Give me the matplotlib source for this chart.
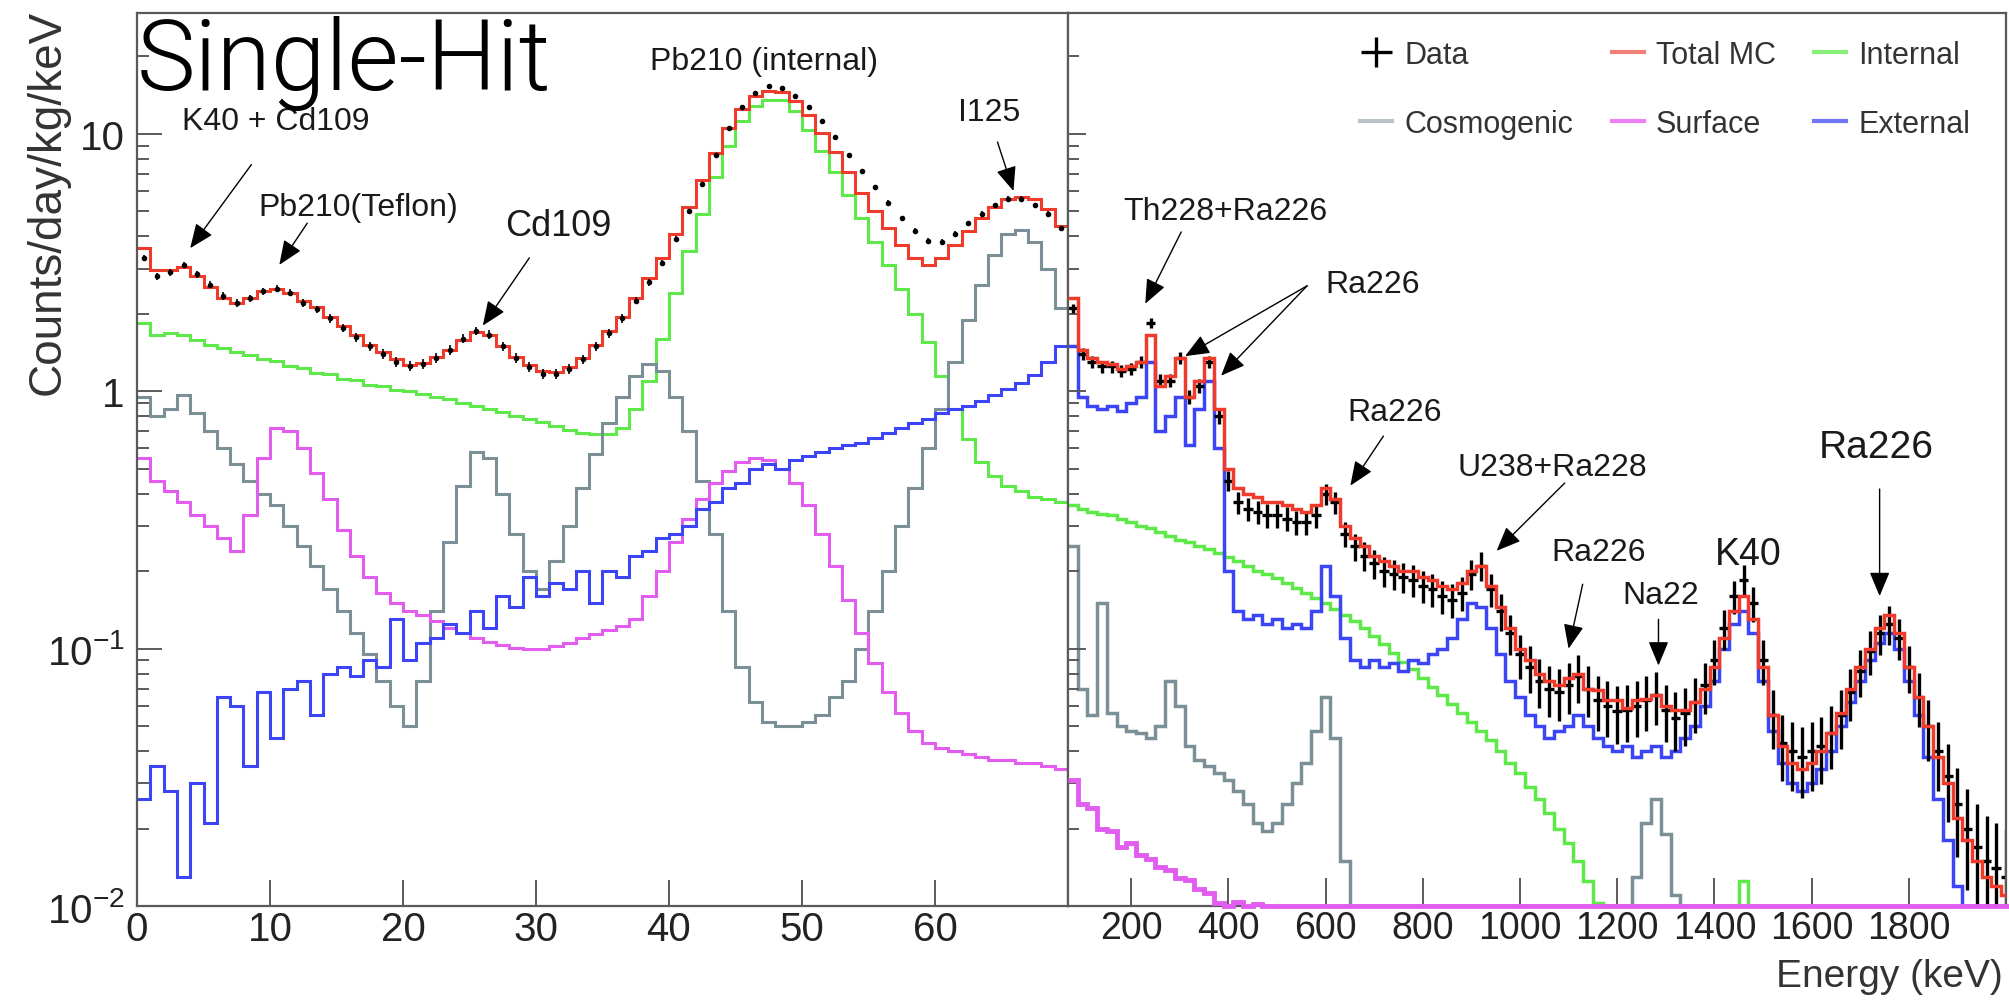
import numpy as np
import matplotlib
matplotlib.use('Agg')
from matplotlib import pyplot as plt
from matplotlib.lines import Line2D
from matplotlib.ticker import FixedLocator, FuncFormatter, LogLocator, NullLocator

plt.rcParams['font.family'] = ['Liberation Sans', 'DejaVu Sans']
plt.rcParams['mathtext.fontset'] = 'custom'
plt.rcParams['mathtext.rm'] = 'Liberation Sans'

# ---------------------------------------------------------------
# Datos leidos del espectro (Counts/day/kg/keV)
# ---------------------------------------------------------------
# Panel izquierdo: 0-70 keV, bins de 1 keV
low_edges = np.arange(0, 71)

low_data = [3.3, 2.8, 2.9, 3.1, 2.85, 2.6, 2.35, 2.2, 2.3, 2.45,
            2.5, 2.42, 2.2, 2.08, 1.92, 1.76, 1.62, 1.5, 1.4, 1.3,
            1.25, 1.28, 1.35, 1.45, 1.6, 1.72, 1.66, 1.5, 1.35, 1.24,
            1.17, 1.17, 1.22, 1.33, 1.5, 1.68, 1.92, 2.25, 2.65, 3.15,
            3.9, 5.0, 6.4, 8.3, 10.5, 12.7, 14.4, 15.3, 15.1, 14.1,
            12.7, 11.2, 9.7, 8.3, 7.2, 6.2, 5.4, 4.7, 4.2, 3.85,
            3.8, 4.1, 4.5, 4.9, 5.3, 5.6, 5.6, 5.3, 4.9, 4.3]

low_total = [3.6, 2.95, 2.95, 3.05, 2.8, 2.55, 2.3, 2.2, 2.3, 2.45,
             2.5, 2.4, 2.25, 2.12, 1.95, 1.8, 1.65, 1.52, 1.42, 1.33,
             1.27, 1.29, 1.36, 1.45, 1.58, 1.7, 1.65, 1.5, 1.36, 1.26,
             1.2, 1.19, 1.24, 1.35, 1.52, 1.72, 1.95, 2.3, 2.75, 3.3,
             4.1, 5.2, 6.6, 8.4, 10.5, 12.5, 14.0, 14.7, 14.5, 13.4,
             11.8, 10.1, 8.5, 7.1, 5.9, 5.0, 4.3, 3.7, 3.3, 3.1,
             3.3, 3.7, 4.2, 4.7, 5.2, 5.6, 5.7, 5.6, 5.1, 4.4]

low_internal = [1.85, 1.65, 1.68, 1.66, 1.58, 1.52, 1.47, 1.42, 1.38, 1.34,
                1.31, 1.25, 1.23, 1.18, 1.17, 1.12, 1.11, 1.06, 1.05, 1.01,
                1.0, 0.98, 0.95, 0.93, 0.9, 0.88, 0.85, 0.83, 0.8, 0.78,
                0.76, 0.73, 0.71, 0.69, 0.68, 0.68, 0.72, 0.85, 1.1, 1.6,
                2.4, 3.5, 4.9, 6.8, 9.0, 11.2, 12.8, 13.6, 13.5, 12.3,
                10.4, 8.6, 7.1, 5.8, 4.7, 3.8, 3.1, 2.5, 2.0, 1.55,
                1.15, 0.85, 0.65, 0.53, 0.47, 0.43, 0.41, 0.39, 0.38, 0.37]

low_cosmo = [0.95, 0.8, 0.85, 0.97, 0.82, 0.7, 0.6, 0.52, 0.45, 0.4,
             0.36, 0.3, 0.25, 0.21, 0.17, 0.14, 0.115, 0.095, 0.075, 0.06,
             0.05, 0.075, 0.14, 0.26, 0.43, 0.58, 0.55, 0.4, 0.28, 0.2,
             0.17, 0.22, 0.3, 0.42, 0.57, 0.75, 0.95, 1.15, 1.28, 1.2,
             0.95, 0.7, 0.45, 0.28, 0.14, 0.085, 0.062, 0.052, 0.05, 0.05,
             0.052, 0.055, 0.065, 0.075, 0.1, 0.14, 0.2, 0.3, 0.42, 0.6,
             0.85, 1.3, 1.9, 2.6, 3.4, 4.1, 4.25, 3.8, 3.0, 2.1]

low_surface = [0.55, 0.45, 0.41, 0.37, 0.33, 0.3, 0.27, 0.24, 0.33, 0.55,
               0.72, 0.7, 0.6, 0.48, 0.38, 0.29, 0.23, 0.19, 0.165, 0.15,
               0.14, 0.135, 0.128, 0.12, 0.115, 0.11, 0.106, 0.103, 0.101, 0.1,
               0.1, 0.102, 0.105, 0.11, 0.114, 0.118, 0.122, 0.13, 0.16, 0.2,
               0.26, 0.32, 0.38, 0.44, 0.49, 0.53, 0.55, 0.54, 0.5, 0.44,
               0.36, 0.28, 0.21, 0.155, 0.115, 0.088, 0.068, 0.056, 0.048, 0.043,
               0.041, 0.04, 0.039, 0.038, 0.037, 0.037, 0.036, 0.036, 0.035, 0.034]

low_external = [0.026, 0.035, 0.028, 0.013, 0.03, 0.021, 0.065, 0.06, 0.035, 0.068,
                0.045, 0.07, 0.075, 0.055, 0.08, 0.085, 0.078, 0.09, 0.085, 0.13,
                0.09, 0.105, 0.11, 0.125, 0.115, 0.14, 0.12, 0.16, 0.145, 0.19,
                0.16, 0.18, 0.17, 0.2, 0.15, 0.2, 0.19, 0.23, 0.24, 0.27,
                0.28, 0.3, 0.35, 0.37, 0.42, 0.44, 0.5, 0.52, 0.5, 0.54,
                0.56, 0.58, 0.6, 0.62, 0.63, 0.66, 0.69, 0.72, 0.75, 0.78,
                0.82, 0.85, 0.88, 0.92, 0.97, 1.02, 1.08, 1.16, 1.3, 1.5]

# Panel derecho: 70-2010 keV, bins de 20 keV
high_edges = np.arange(70, 2011, 20)

high_data = [2.1, 1.4, 1.3, 1.25, 1.25, 1.2, 1.22, 1.3, 1.85, 1.1,
             1.1, 1.35, 0.95, 1.05, 1.3, 0.8, 0.45, 0.37, 0.35, 0.34,
             0.33, 0.33, 0.32, 0.31, 0.31, 0.33, 0.4, 0.37, 0.28, 0.25,
             0.23, 0.215, 0.2, 0.195, 0.19, 0.185, 0.175, 0.17, 0.16, 0.155,
             0.165, 0.195, 0.21, 0.17, 0.14, 0.115, 0.095, 0.085, 0.075, 0.07,
             0.068, 0.072, 0.078, 0.07, 0.063, 0.06, 0.057, 0.058, 0.06, 0.063,
             0.066, 0.058, 0.054, 0.056, 0.062, 0.072, 0.09, 0.12, 0.16, 0.185,
             0.15, 0.09, 0.055, 0.043, 0.04, 0.038, 0.04, 0.042, 0.047, 0.055,
             0.068, 0.082, 0.098, 0.115, 0.125, 0.11, 0.085, 0.065, 0.05, 0.04,
             0.032, 0.025, 0.02, 0.017, 0.015, 0.014, 0.013]

high_total = [2.3, 1.45, 1.35, 1.3, 1.28, 1.22, 1.25, 1.3, 1.65, 1.05,
              1.15, 1.35, 0.95, 1.1, 1.35, 0.85, 0.5, 0.42, 0.4, 0.39,
              0.37, 0.37, 0.36, 0.35, 0.34, 0.36, 0.42, 0.38, 0.3, 0.27,
              0.25, 0.23, 0.22, 0.21, 0.2, 0.2, 0.19, 0.185, 0.175, 0.17,
              0.18, 0.2, 0.21, 0.175, 0.145, 0.12, 0.1, 0.09, 0.08, 0.075,
              0.072, 0.077, 0.08, 0.07, 0.069, 0.063, 0.063, 0.059, 0.063, 0.064,
              0.066, 0.06, 0.058, 0.058, 0.062, 0.07, 0.085, 0.11, 0.14, 0.16,
              0.13, 0.085, 0.055, 0.042, 0.036, 0.034, 0.036, 0.04, 0.047, 0.056,
              0.07, 0.085, 0.1, 0.12, 0.135, 0.115, 0.085, 0.065, 0.05, 0.038,
              0.03, 0.022, 0.018, 0.015, 0.013, 0.012, 0.011]

high_external = [1.5, 0.95, 0.88, 0.85, 0.88, 0.84, 0.9, 0.95, 1.3, 0.7,
                 0.8, 0.95, 0.62, 0.85, 1.1, 0.6, 0.2, 0.14, 0.13, 0.135,
                 0.125, 0.13, 0.12, 0.125, 0.12, 0.14, 0.21, 0.16, 0.11, 0.09,
                 0.085, 0.09, 0.085, 0.088, 0.082, 0.09, 0.088, 0.095, 0.1, 0.11,
                 0.13, 0.15, 0.145, 0.12, 0.095, 0.075, 0.065, 0.055, 0.05, 0.045,
                 0.048, 0.05, 0.055, 0.05, 0.045, 0.042, 0.04, 0.042, 0.038, 0.04,
                 0.042, 0.038, 0.04, 0.045, 0.05, 0.06, 0.075, 0.1, 0.125, 0.14,
                 0.115, 0.075, 0.048, 0.036, 0.03, 0.028, 0.03, 0.034, 0.04, 0.05,
                 0.062, 0.075, 0.09, 0.105, 0.115, 0.1, 0.075, 0.055, 0.038, 0.026,
                 0.018, 0.012, 0.008, 0.006, 0.005, 0.004, 0.004]

# Internal solo hasta 1490 keV (despues queda bajo el minimo)
high_internal = [0.36, 0.35, 0.34, 0.335, 0.33, 0.32, 0.31, 0.3, 0.295, 0.285,
                 0.275, 0.265, 0.26, 0.25, 0.245, 0.235, 0.228, 0.22, 0.21, 0.2,
                 0.195, 0.188, 0.18, 0.172, 0.165, 0.158, 0.15, 0.142, 0.135, 0.128,
                 0.12, 0.112, 0.104, 0.096, 0.089, 0.083, 0.077, 0.071, 0.066, 0.061,
                 0.056, 0.052, 0.048, 0.044, 0.04, 0.036, 0.033, 0.029, 0.026, 0.023,
                 0.02, 0.0175, 0.015, 0.0125, 0.0103, 0.008, 0.006, 0.005, 0.004, 0.003,
                 0.003, 0.003, 0.003, 0.003, 0.003, 0.003, 0.004, 0.006, 0.009, 0.0125,
                 0.009]

# Cosmogenic solo hasta 1350 keV
high_cosmo = ([0.25, 0.07, 0.055, 0.15, 0.056, 0.05, 0.048, 0.047, 0.045, 0.05,
               0.075, 0.06, 0.042, 0.037, 0.035, 0.033, 0.031, 0.028, 0.025, 0.021,
               0.0195, 0.021, 0.025, 0.03, 0.036, 0.048, 0.065, 0.045, 0.015, 0.004]
              + [0.001] * 27
              + [0.006, 0.013, 0.021, 0.026, 0.019, 0.011, 0.004])

high_surface = ([0.031, 0.025, 0.024, 0.02, 0.0195, 0.017, 0.0175, 0.0158, 0.0152, 0.0142,
                 0.0138, 0.0128, 0.0126, 0.0116, 0.0112, 0.0103,
                 0.0095, 0.0104, 0.0098, 0.0102, 0.009]
                + [0.005] * 76)

# error estadistico ~ sqrt(N): sigma = k*sqrt(valor)
low_stat = 0.05
high_stat = 0.06

y_min, y_max = 0.01, 29.5

# Colores tipo ROOT
c_total = '#ee3b2b'
c_internal = '#5ee84a'
c_cosmo = '#7b8f96'
c_surface = '#e35cf0'
c_external = '#3b45f5'
c_axis = '#5a5a5a'

fig = plt.figure(figsize=(20.09, 10.03), dpi=100)
ax_lo = fig.add_axes([0.0682, 0.0957, 0.4634, 0.8903])
ax_hi = fig.add_axes([0.5316, 0.0957, 0.4669, 0.8903])


def floor(v):
    # ROOT dibuja lo que esta bajo el minimo pegado al eje
    return np.clip(np.asarray(v, dtype=float), y_min, None)


def y_label(v, pos):
    return {0.01: r'$10^{-2}$', 0.1: r'$10^{-1}$', 1: '1', 10: '10'}.get(v, '')


def style(ax, xticks, xlim, ylen, xlen, fs):
    ax.set_yscale('log')
    ax.set_ylim(y_min, y_max)
    ax.set_xlim(*xlim)
    for s in ax.spines.values():
        s.set_color(c_axis)
        s.set_linewidth(1.6)
    ax.xaxis.set_major_locator(FixedLocator(xticks))
    ax.xaxis.set_minor_locator(NullLocator())
    ax.yaxis.set_major_locator(FixedLocator([0.01, 0.1, 1, 10]))
    ax.yaxis.set_minor_locator(LogLocator(base=10, subs=np.arange(2, 10), numticks=20))
    ax.tick_params(which='both', direction='in', color=c_axis, width=1.4,
                   labelsize=fs, labelcolor='#222222')
    ax.tick_params(axis='y', which='major', length=ylen[0], pad=9)
    ax.tick_params(axis='y', which='minor', length=ylen[1])
    ax.tick_params(axis='x', which='major', length=xlen, pad=3)


style(ax_lo, range(0, 61, 10), (0, 70), (18, 8.5), 19, 29)
ax_lo.yaxis.set_major_formatter(FuncFormatter(y_label))

style(ax_hi, range(200, 1801, 200), (70, 2000), (13, 8), 20, 27)
ax_hi.yaxis.set_major_formatter(FuncFormatter(lambda v, p: ''))

# --- Panel izquierdo ---
lw = 2.2
ax_lo.stairs(floor(low_internal), low_edges, baseline=None, color=c_internal, lw=lw)
ax_lo.stairs(floor(low_cosmo), low_edges, baseline=None, color=c_cosmo, lw=lw)
ax_lo.stairs(floor(low_surface), low_edges, baseline=None, color=c_surface, lw=lw)
ax_lo.stairs(floor(low_external), low_edges, baseline=None, color=c_external, lw=lw)
ax_lo.stairs(floor(low_total), low_edges, baseline=None, color=c_total, lw=lw)
low_x = (low_edges[:-1] + low_edges[1:]) / 2
low_v = np.array(low_data)
ax_lo.errorbar(low_x, low_v, yerr=low_stat * np.sqrt(low_v), fmt='o', ms=3,
               color='black', elinewidth=1.2, capsize=0, zorder=4)

# --- Panel derecho ---
lw = 2.5
ax_hi.stairs(floor(high_internal), high_edges[:len(high_internal) + 1], baseline=None,
             color=c_internal, lw=lw)
ax_hi.stairs(floor(high_cosmo), high_edges[:len(high_cosmo) + 1], baseline=None,
             color=c_cosmo, lw=lw)
ax_hi.stairs(floor(high_external), high_edges, baseline=None, color=c_external, lw=lw)
high_x = (high_edges[:-1] + high_edges[1:]) / 2
high_v = np.array(high_data)
h_data = ax_hi.errorbar(high_x, high_v, xerr=10, yerr=high_stat * np.sqrt(high_v),
                        fmt='none', ecolor='black', elinewidth=2.4, capsize=0)
ax_hi.stairs(floor(high_total), high_edges, baseline=None, color=c_total, lw=lw, zorder=3)
ax_hi.stairs(floor(high_surface), high_edges, baseline=None, color=c_surface, lw=3.5,
             zorder=3, clip_on=False)

# leyenda (handles en orden de columnas)
leg_handles = [h_data,
               Line2D([], [], color='#b8c4c8', lw=3),
               Line2D([], [], color='#f08078', lw=3),
               Line2D([], [], color='#f080f8', lw=3),
               Line2D([], [], color='#88f078', lw=3),
               Line2D([], [], color='#7078f8', lw=3)]
leg_labels = ['Data', 'Cosmogenic', 'Total MC', 'Surface', 'Internal', 'External']
ax_hi.legend(leg_handles, leg_labels, ncol=3, loc='upper right',
             bbox_to_anchor=(0.962, 0.97), frameon=False, fontsize=22,
             handlelength=1.05, handletextpad=0.4, columnspacing=1.25,
             labelspacing=1.28, borderaxespad=0, borderpad=0,
             labelcolor='#333333')

# --- Anotaciones ---
arrow = dict(arrowstyle='-|>,head_length=0.6,head_width=0.25', color='black',
             lw=1.0, mutation_scale=25, shrinkA=0, shrinkB=0)


def label(ax, text, x, y, size=23):
    ax.text(x, y, text, ha='left', va='center', fontsize=size, color='#1a1a1a')


def pointer(ax, tail, tip):
    ax.annotate('', xy=tip, xytext=tail, arrowprops=arrow)


label(ax_lo, 'K40 + Cd109', 3.4, 11.2)
pointer(ax_lo, (8.6, 7.6), (4.0, 3.6))
label(ax_lo, 'Pb210(Teflon)', 9.1, 5.2)
pointer(ax_lo, (12.8, 4.5), (10.7, 3.1))
label(ax_lo, 'Cd109', 27.7, 4.4, 26)
pointer(ax_lo, (29.5, 3.3), (26.0, 1.8))
label(ax_lo, 'Pb210 (internal)', 38.6, 19.2)
label(ax_lo, 'I125', 61.7, 12.2)
pointer(ax_lo, (64.7, 9.3), (65.9, 6.0))

label(ax_hi, 'Th228+Ra226', 183, 5.0)
pointer(ax_hi, (303, 4.16), (229, 2.19))
label(ax_hi, 'Ra226', 599, 2.61)
pointer(ax_hi, (562, 2.57), (311, 1.37))
pointer(ax_hi, (562, 2.57), (385, 1.15))
label(ax_hi, 'Ra226', 645, 0.83)
pointer(ax_hi, (719, 0.67), (651, 0.43))
label(ax_hi, 'U238+Ra228', 871, 0.51)
pointer(ax_hi, (1092, 0.44), (952, 0.24))
label(ax_hi, 'Ra226', 1065, 0.237)
pointer(ax_hi, (1129, 0.178), (1100, 0.1))
label(ax_hi, 'Na22', 1211, 0.162)
pointer(ax_hi, (1285, 0.13), (1285, 0.086))
label(ax_hi, 'K40', 1400, 0.233, 27)
label(ax_hi, 'Ra226', 1615, 0.61, 28)
pointer(ax_hi, (1740, 0.417), (1740, 0.16))

# textos de ejes
fig.text(48 / 2009, 1 - 10 / 1003, 'Counts/day/kg/keV', rotation=90,
         ha='center', va='top', fontsize=33, color='#333333')
fig.text(2003 / 2009, 1 - 977 / 1003, 'Energy (keV)', ha='right', va='center',
         fontsize=28, color='#333333')
fig.text(137 / 2009, 1 - 90 / 1003, 'Single-Hit', ha='left', va='baseline',
         fontsize=71, family=['Roboto', 'DejaVu Sans'], fontweight=300)

fig.savefig('out.png', dpi=100)
